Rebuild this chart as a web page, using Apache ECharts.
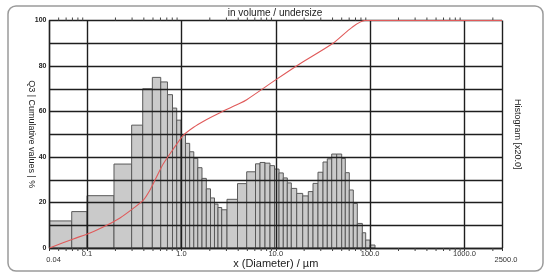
<!DOCTYPE html>
<html><head><meta charset="utf-8">
<script src="https://cdn.jsdelivr.net/npm/echarts@6/dist/echarts.min.js"></script>
<style>html,body{margin:0;padding:0;background:#fff}#c{width:550px;height:277px}</style>
</head><body><div id="c"></div>
<script>
// histogram class edges (µm) and heights (%, scaled as plotted)
const binEdges = [0.04, 0.0688, 0.1, 0.193, 0.297, 0.389, 0.492, 0.604, 0.712, 0.805, 0.892, 0.99,
  1.105, 1.224, 1.353, 1.492, 1.653, 1.837, 2.035, 2.243, 2.443, 2.675, 3.044, 3.932, 4.922,
  6.101, 6.809, 7.693, 8.693, 9.701, 10.83, 12.02, 13.26, 14.62, 16.68, 19.31, 22.13, 24.82,
  28.04, 31.68, 35.19, 39.18, 44.26, 50.0, 54.6, 60.2, 66.4, 73.2, 82.7, 89.8, 99.8, 112.7];
const histValues = [11.9, 16, 23, 36.9, 54, 70, 75, 73, 67.4, 61.5, 56.2,
  49.7, 46, 42.3, 39.4, 35.3, 30.6, 26, 22, 19.3, 17.8, 16.8, 21.4, 28.3,
  33.5, 37, 37.6, 37.3, 36.2, 34.7, 33, 30.8, 28.6, 26.2, 24, 22.9, 24.8,
  28.4, 33.3, 37.8, 39.2, 41.3, 41.3, 39.4, 33.1, 25.5, 19.6, 10.8, 6.7, 3.5, 1.3];
// cumulative undersize curve
const cumSizes = [0.04, 0.0715, 0.1075, 0.1616, 0.2235, 0.309, 0.3947, 0.465, 0.535, 0.643, 0.821, 1.047,
  1.337, 1.854, 2.566, 4.179, 4.922, 10.06, 18.07, 40.45, 64.3, 88.3, 2500];
const cumValues = [0, 4, 6.6, 10, 13.2, 17.4, 21, 25.5, 30.5, 37, 43.5, 49.5,
  53, 56.5, 59.5, 63.6, 65.2, 74, 81, 90, 97, 100, 100];
// axis ticks
const xTickValues = [0.04, 0.1, 1, 10, 100, 1000, 2500];
const xTickLabels = ['0.04', '0.1', '1.0', '10.0', '100.0', '1000.0', '2500.0'];
const yTickValues = [0, 20, 40, 60, 80, 100];
const yTickLabels = ['0', '20', '40', '60', '80', '100'];
const minorTicks = [0.05, 0.06, 0.07, 0.08, 0.09, 0.2, 0.3, 0.4, 0.5, 0.6, 0.7, 0.8, 0.9,
  2, 3, 4, 5, 6, 7, 8, 9, 20, 30, 40, 50, 60, 70, 80, 90, 200, 300, 400, 500, 600, 700, 800, 900, 2000];

const histData = histValues.map((h, i) => [binEdges[i], binEdges[i + 1], h]);
const cumData = cumSizes.map((s, i) => [s, cumValues[i]]);
const FONT = 'Liberation Sans, Arial, sans-serif';

const chart = echarts.init(document.getElementById('c'), null, {renderer: 'canvas'});
chart.setOption({
  animation: false,
  backgroundColor: '#fff',
  textStyle: {fontFamily: FONT},
  title: {
    text: 'in volume / undersize', left: 'center', top: 3,
    textStyle: {fontSize: 10, fontWeight: 'normal', color: '#222', fontFamily: FONT}
  },
  graphic: [{
    type: 'rect', silent: true, z: -1,
    shape: {x: 8, y: 6, width: 535, height: 265, r: 8},
    style: {fill: null, stroke: '#9a9a9a', lineWidth: 1.5}
  }],
  grid: {left: 49.5, right: 48, top: 20.5, bottom: 29, containLabel: false, outerBoundsMode: 'none'},
  xAxis: {
    type: 'log', logBase: 10, min: 0.04, max: 2500, z: 3,
    name: 'x (Diameter) / µm', nameLocation: 'middle', nameGap: 10, nameMoveOverlap: false,
    nameTextStyle: {fontSize: 11, color: '#222', fontFamily: FONT},
    axisLine: {show: true, lineStyle: {color: '#222', width: 1.3}},
    axisTick: {show: true, length: 3, lineStyle: {color: '#333'}},
    splitLine: {show: true, lineStyle: {color: '#1e1e1e', width: 1.4}},
    minorTick: {show: false}, minorSplitLine: {show: false},
    axisLabel: {
      show: true, margin: 2, fontSize: 7.5, color: '#333', fontFamily: FONT,
      showMinLabel: true, showMaxLabel: true, hideOverlap: false,
      formatter: function (v) {
        const i = xTickValues.findIndex(t => Math.abs(Math.log10(t) - Math.log10(v)) < 1e-4);
        if (i < 0) return '';
        if (i === 0 || i === xTickValues.length - 1) return '{lo|' + xTickLabels[i] + '}';
        return xTickLabels[i];
      },
      rich: {lo: {fontSize: 7.5, color: '#333', padding: [6, 0, 0, 8], fontFamily: FONT}}
    }
  },
  yAxis: [{
    type: 'value', min: 0, max: 100, interval: 10, z: 3,
    name: 'Q3 | Cumulative values | %', nameLocation: 'middle', nameRotate: -90, nameGap: 14,
    nameMoveOverlap: false,
    nameTextStyle: {fontSize: 9, color: '#222', fontFamily: FONT},
    axisLine: {show: true, lineStyle: {color: '#222', width: 1.3}},
    axisTick: {show: false},
    splitLine: {show: true, lineStyle: {color: '#1e1e1e', width: 1.4}},
    axisLabel: {
      margin: 3, fontSize: 7, color: '#222', fontWeight: 'bold', fontFamily: FONT,
      formatter: function (v) {
        const i = yTickValues.indexOf(Math.round(v));
        return i >= 0 ? yTickLabels[i] : '';
      }
    }
  }, {
    type: 'value', min: 0, max: 100, position: 'right',
    name: 'Histogram [x20.0]', nameLocation: 'middle', nameRotate: -90, nameGap: 11,
    nameMoveOverlap: false,
    nameTextStyle: {fontSize: 9, color: '#222', fontFamily: FONT},
    axisLine: {show: false}, axisTick: {show: false}, axisLabel: {show: false}, splitLine: {show: false}
  }],
  series: [{
    type: 'custom', z: 1,
    data: histData,
    encode: {x: [0, 1], y: 2},
    renderItem: function (params, api) {
      const p0 = api.coord([api.value(0), api.value(2)]);
      const p1 = api.coord([api.value(1), 0]);
      return {
        type: 'rect',
        shape: {x: p0[0], y: p0[1], width: p1[0] - p0[0], height: p1[1] - p0[1]},
        style: {fill: '#cacaca', stroke: '#5a5a5a', lineWidth: 1}
      };
    }
  }, {
    type: 'custom', z: 4, clip: false,
    data: minorTicks.map(v => [v]),
    encode: {x: 0},
    renderItem: function (params, api) {
      const b = api.coord([api.value(0), 0]);
      const t = api.coord([api.value(0), 100]);
      return {
        type: 'group',
        children: [
          {type: 'line', shape: {x1: b[0], y1: b[1], x2: b[0], y2: b[1] + 3}, style: {stroke: '#444', lineWidth: 1}},
          {type: 'line', shape: {x1: t[0], y1: t[1], x2: t[0], y2: t[1] - 3}, style: {stroke: '#444', lineWidth: 1}}
        ]
      };
    }
  }, {
    type: 'line', z: 5,
    data: cumData,
    showSymbol: false, smooth: 0.25,
    lineStyle: {color: '#e05a5a', width: 1.1}
  }]
});
</script>
</body></html>
